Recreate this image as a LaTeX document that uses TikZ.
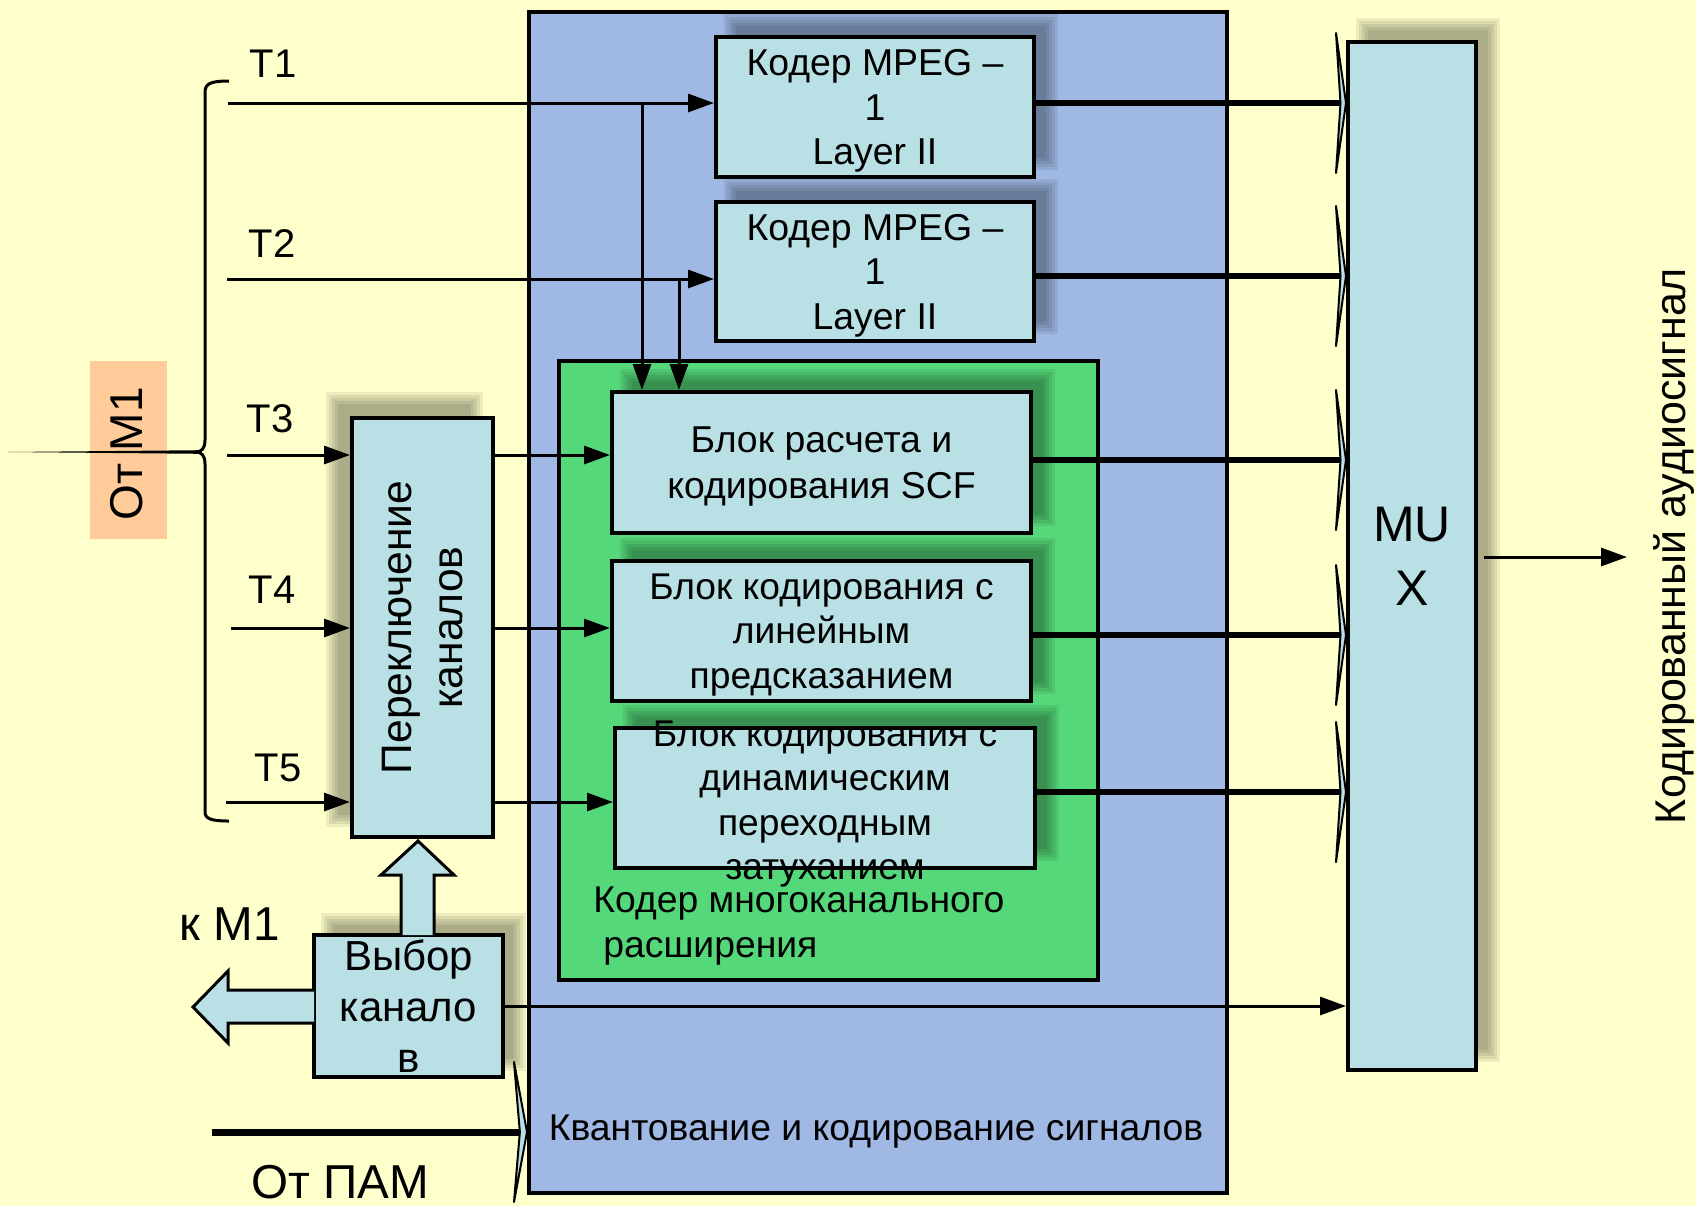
\documentclass[tikz,border=0pt]{standalone}
\usepackage{fontspec}
\setmainfont{Liberation Sans}
\usetikzlibrary{arrows.meta,calc}
\pgfdeclarelayer{bglayer}
\pgfdeclarelayer{shadowlayer}
\pgfsetlayers{bglayer,shadowlayer,main}
\definecolor{bgyellow}{RGB}{255,255,204}
\definecolor{quantblue}{RGB}{160,184,228}
\definecolor{boxcyan}{RGB}{185,224,228}
\definecolor{mcgreen}{RGB}{85,216,122}
\definecolor{m1orange}{RGB}{255,204,153}
\newcommand{\fsz}[2]{\fontsize{#1}{#2}\selectfont}
\newcommand{\softshadow}[3]{%
  \begin{pgfonlayer}{shadowlayer}
  \foreach \e in {-6,-3,0,3,6}{%
    \fill[black,opacity=0.075] ([shift={({#2-\e},{#3-\e})}]#1.north west) rectangle ([shift={({#2+\e},{#3+\e})}]#1.south east);
  }
  \end{pgfonlayer}}
\newcommand{\spikeat}[3]{%
  \filldraw[line width=1pt,draw=black,fill=boxcyan,line join=round] ($(#1)+(-#2,-#3)$) -- (#1) -- ($(#1)+(-#2,#3)$) -- ($(#1)+({-0.55*#2},0)$) -- cycle;}
\begin{document}
\begin{tikzpicture}[x=0.5pt,y=-0.5pt,
  >={Triangle[length=13pt,width=9pt]},
  thinline/.style={line width=1.5pt},
  thickline/.style={line width=3pt},
  box/.style={draw=black,line width=2pt,fill=boxcyan,inner sep=0pt},
  lab/.style={align=center,inner sep=0pt,text=black,yshift=-2pt},
  blockarrow/.style={draw=black,line width=1.5pt,fill=boxcyan,line join=miter},
]
\useasboundingbox (0,0) rectangle (1696,1206);
\begin{pgfonlayer}{bglayer}
  \fill[bgyellow] (0,0) rectangle (1696,1206);
  \node[draw=black,line width=2pt,fill=quantblue,minimum width=349pt,minimum height=590.5pt,inner sep=0pt] (quant) at (878,602.5) {};
  \node[draw=black,line width=2pt,fill=mcgreen,minimum width=269.5pt,minimum height=309.5pt,inner sep=0pt] (mc) at (828.5,670.5) {};
\end{pgfonlayer}

% texts of containers
\node[align=center,inner sep=0pt,font=\fsz{18.65pt}{22pt}] (quanttxt) at (876,1132) {Квантование и кодирование сигналов};
\node[align=left,inner sep=0pt,anchor=west,font=\fsz{18.65pt}{22.7pt}] (mctxt) at (593,926) {Кодер многоканального\\\hspace*{5pt}расширения};

% orange source label
\node[fill=m1orange,minimum width=38.5pt,minimum height=89pt,inner sep=0pt] (m1box) at (128.5,450) {};
\node[rotate=90,inner sep=0pt,font=\fsz{23pt}{26pt}] (m1txt) at (127,454) {От М1};

% boxes
\node[box,minimum width=159pt,minimum height=70pt,label={[lab,font=\fsz{18.7pt}{22.3pt}]center:{Кодер MPEG –\\1\\Layer II}}] (mpeg1) at (875,107) {};
\node[box,minimum width=159pt,minimum height=69.5pt,label={[lab,font=\fsz{18.7pt}{22.3pt}]center:{Кодер MPEG –\\1\\Layer II}}] (mpeg2) at (875,271.5) {};
\node[box,minimum width=209.5pt,minimum height=70.5pt,label={[lab,font=\fsz{18.7pt}{22.7pt}]center:{Блок расчета и\\кодирования SCF}}] (scf) at (821.5,462.5) {};
\node[box,minimum width=209.5pt,minimum height=70pt,label={[lab,font=\fsz{18.6pt}{22.4pt}]center:{Блок кодирования с\\линейным\\предсказанием}}] (lin) at (821.5,631) {};
\node[box,minimum width=210pt,minimum height=70pt,label={[lab,yshift=-1pt,font=\fsz{18.6pt}{22.3pt}]center:{Блок кодирования с\\динамическим\\переходным\\затуханием}}] (dyn) at (825,798) {};
\node[box,minimum width=70.5pt,minimum height=209.5pt,label={[align=center,inner sep=0pt,rotate=90,font=\fsz{21.3pt}{25.5pt}]center:{Переключение\\каналов}}] (sw) at (422.5,627.5) {};
\node[box,minimum width=94.5pt,minimum height=71pt,label={[align=center,inner sep=0pt,font=\fsz{21pt}{25.5pt}]center:{Выбор\\канало\\в}}] (sel) at (408.5,1006) {};
\node[box,minimum width=64pt,minimum height=514pt,label={[align=center,inner sep=0pt,font=\fsz{25pt}{32pt}]center:{MU\\X}}] (mux) at (1412,556) {};

\softshadow{mpeg1}{16}{-15}
\softshadow{mpeg2}{16}{-15}
\softshadow{scf}{16}{-15}
\softshadow{lin}{16}{-15}
\softshadow{dyn}{16}{-15}
\softshadow{sel}{15}{-14}
\softshadow{mux}{16}{-16}
\softshadow{sw}{-18}{-18}

% labels
\node[font=\fsz{20pt}{24pt},anchor=base,inner sep=0pt] (lt1) at (273,77) {T1};
\node[font=\fsz{20pt}{24pt},anchor=base,inner sep=0pt] (lt2) at (272,257) {T2};
\node[font=\fsz{20pt}{24pt},anchor=base,inner sep=0pt] (lt3) at (270,432) {T3};
\node[font=\fsz{20pt}{24pt},anchor=base,inner sep=0pt] (lt4) at (272,603) {T4};
\node[font=\fsz{20pt}{24pt},anchor=base,inner sep=0pt] (lt5) at (278,781) {T5};
\node[font=\fsz{23.8pt}{26pt},anchor=base,inner sep=0pt] (km1) at (230,940) {к М1};
\node[font=\fsz{23.8pt}{26pt},anchor=base,inner sep=0pt] (pamlbl) at (340,1198) {От ПАМ};
\node[rotate=90,inner sep=0pt,font=\fsz{21.5pt}{24pt}] (outlbl) at (1674,546) {Кодированный аудиосигнал};

% brace and source line
\coordinate (m1src) at (7,452);
\coordinate (bracetip) at (196,452);
\fill (m1src) -- ($(bracetip)+(4,-1.8)$) -- ($(bracetip)+(4,1.8)$) -- cycle;
\draw[line width=1.5pt] (229,81) .. controls (212,81) and (205,83) .. (205,92) -- (205,440) .. controls (205,449) and (201,452) .. (bracetip) .. controls (201,452) and (205,455) .. (205,464) -- (205,812) .. controls (205,819) and (212,821) .. (229,821);

% input rows
\coordinate (t1s) at (228,103);
\coordinate (t2s) at (227,279);
\coordinate (t3s) at (227,455);
\coordinate (t4s) at (231,628);
\coordinate (t5s) at (226,802);
\coordinate (j1) at (642,103);
\coordinate (j2) at (679,279);
\draw[thinline,->] (t1s) -- (mpeg1.west |- t1s);
\draw[thinline,->] (t2s) -- (mpeg2.west |- t2s);
\draw[thinline,->] (j1) -- (j1 |- scf.north);
\draw[thinline,->] (j2) -- (j2 |- scf.north);
\draw[thinline,->] (t3s) -- (sw.west |- t3s);
\draw[thinline,->] (t4s) -- (sw.west |- t4s);
\draw[thinline,->] (t5s) -- (sw.west |- t5s);
\draw[thinline,->] (sw.east |- t3s) -- (scf.west |- t3s);
\draw[thinline,->] (sw.east |- t4s) -- (lin.west |- t4s);
\draw[thinline,->] (sw.east |- t5s) -- (dyn.west |- t5s);

% outputs to MUX
\coordinate (o1) at (1300,103);
\coordinate (o2) at (1300,276);
\coordinate (o3) at (1300,460);
\coordinate (o4) at (1300,635);
\coordinate (o5) at (1300,792);
\coordinate (m1in) at (mux.west |- o1);
\coordinate (m2in) at (mux.west |- o2);
\coordinate (m3in) at (mux.west |- o3);
\coordinate (m4in) at (mux.west |- o4);
\coordinate (m5in) at (mux.west |- o5);
\draw[thickline] (mpeg1.east |- o1) -- ($(m1in)+(-6,0)$);
\draw[thickline] (mpeg2.east |- o2) -- ($(m2in)+(-6,0)$);
\draw[thickline] (scf.east |- o3) -- ($(m3in)+(-6,0)$);
\draw[thickline] (lin.east |- o4) -- ($(m4in)+(-6,0)$);
\draw[thickline] (dyn.east |- o5) -- ($(m5in)+(-6,0)$);
\spikeat{m1in}{10}{70}
\spikeat{m2in}{10}{70}
\spikeat{m3in}{10}{70}
\spikeat{m4in}{10}{70}
\spikeat{m5in}{10}{70}
\draw[thinline,->] (sel.east) -- (mux.west |- sel.east);
\coordinate (outend) at (1627,557);
\draw[thinline,->] ([xshift=3pt]mux.east |- outend) -- (outend);

% from PAM
\coordinate (pams) at (212,1132);
\coordinate (pamtip) at (quant.west |- pams);
\draw[line width=3.5pt] (pams) -- ($(pamtip)+(-8,0)$);
\spikeat{pamtip}{13}{70}

% block arrows
\draw[blockarrow] (401,935) -- (401,875) -- (381,875) -- (418,841) -- (454,875) -- (434,875) -- (434,935);
\draw[blockarrow] (314,990) -- (228,990) -- (228,971) -- (193,1007) -- (228,1043) -- (228,1023) -- (314,1023);
\end{tikzpicture}
\end{document}
